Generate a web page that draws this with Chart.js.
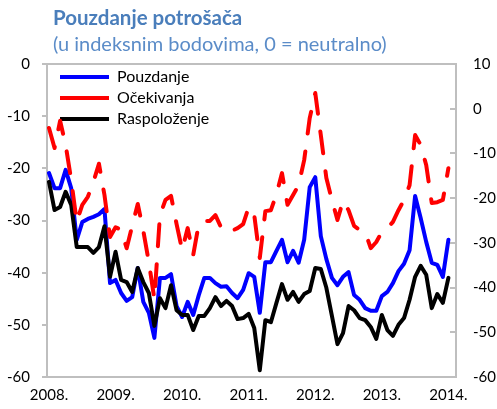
<!DOCTYPE html>
<html>
<head>
<meta charset="utf-8">
<script src="https://cdn.jsdelivr.net/npm/chart.js@4.4.1/dist/chart.umd.min.js"></script>
<style>
html,body{margin:0;padding:0;background:#ffffff;}
#wrap{width:497px;height:409px;position:relative;}
</style>
</head>
<body>
<div id="wrap"><canvas id="c" width="497" height="409"></canvas></div>
<script>
// ---- data (monthly, Jan 2008 - Jan 2014) ----
const yearLabels = ['2008.', '2009.', '2010.', '2011.', '2012.', '2013.', '2014.'];
const seriesNames = ['Pouzdanje', 'Očekivanja', 'Raspoloženje'];

const pouzdanje = [
  -20.9,-23.8,-23.8,-20.3,-23.8,-33.7,-30.3,-29.7,-29.3,-28.8,-27.8,-42.0,
  -41.4,-43.9,-45.4,-44.7,-39.1,-45.6,-47.7,-52.5,-41.0,-41.0,-40.3,-46.4,
  -48.5,-45.6,-48.1,-44.3,-41.0,-41.0,-42.0,-42.7,-42.6,-43.9,-44.9,-43.3,
  -40.1,-40.8,-47.7,-38.0,-38.0,-35.8,-33.7,-38.0,-35.8,-38.1,-33.7,-23.6,
  -21.7,-33.0,-37.4,-41.0,-42.4,-40.8,-39.9,-44.3,-45.2,-46.8,-47.3,-47.3,
  -44.5,-43.7,-42.0,-39.7,-38.3,-35.7,-25.3,-29.5,-34.1,-38.1,-38.5,-40.8,
  -33.7
];
const ocekivanja = [
  -4.3,-8.8,-2.7,-8.1,-15.9,-25.3,-21.5,-19.7,-16.4,-12.3,-19.3,-28.7,
  -26.5,-27.1,-31.2,-26.2,-21.3,-27.3,-34.3,-42.6,-23.8,-20.4,-19.5,-25.8,
  -31.6,-26.7,-32.7,-25.8,-25.1,-25.1,-23.8,-26.5,-26.2,-27.3,-26.7,-25.8,
  -22.0,-23.8,-33.4,-22.9,-22.7,-19.1,-14.4,-21.5,-19.3,-17.1,-11.5,-2.1,
  3.5,-5.9,-15.5,-20.4,-24.9,-20.6,-22.7,-26.2,-27.1,-27.6,-31.2,-29.8,
  -27.6,-26.7,-25.3,-22.7,-20.4,-17.1,-5.9,-8.1,-12.6,-21.1,-20.9,-20.4,
  -13.3
];
const raspolozenje = [
  -22.6,-28.0,-27.4,-24.5,-27.0,-35.1,-35.1,-35.1,-36.2,-35.1,-31.1,-40.8,
  -36.0,-41.4,-41.8,-43.7,-39.1,-41.8,-43.9,-50.2,-44.9,-46.8,-42.4,-47.2,
  -48.1,-48.1,-51.0,-48.3,-48.3,-46.8,-44.7,-46.4,-45.4,-46.4,-48.9,-48.7,
  -47.9,-50.6,-58.7,-49.1,-49.5,-45.8,-42.2,-45.2,-43.7,-45.6,-44.1,-43.5,
  -39.1,-39.3,-42.9,-48.3,-53.7,-51.6,-46.4,-47.2,-48.7,-49.1,-50.4,-52.7,
  -48.1,-51.0,-52.1,-50.0,-48.7,-45.2,-40.8,-38.7,-40.4,-46.8,-44.1,-45.8,
  -41.0
];

const toPoints = arr => arr.map((v, i) => ({ x: i, y: v }));

const FONT = 'Lato';
const AXIS_GRAY = '#BFBFBF';

const layoutPlugin = {
  id: 'layoutTweaks',
  afterLayout(chart) {
    chart.boxes.forEach(b => {
      if (b.options && typeof b.options.text === 'string' && b.options.position === 'top') {
        b.left += 53; b.right += 53;
      }
    });
    const lg = chart.legend, a = chart.chartArea;
    if (lg) {
      const w = lg.width;
      lg.left = a.left + 8; lg.right = lg.left + w;
      lg.top = a.top; lg.bottom = a.bottom; lg.height = a.bottom - a.top;
    }
  },
  beforeDatasetsDraw(chart) {
    const { ctx, chartArea: a } = chart;
    ctx.save();
    ctx.strokeStyle = AXIS_GRAY;
    ctx.lineWidth = 2;
    ctx.strokeRect(a.left, a.top, a.right - a.left, a.bottom - a.top);
    // inward tick marks on the right-hand axis
    const s = chart.scales.y1;
    ctx.beginPath();
    s.ticks.forEach(t => {
      const y = Math.round(s.getPixelForValue(t.value));
      ctx.moveTo(a.right - 6, y);
      ctx.lineTo(a.right, y);
    });
    ctx.stroke();
    ctx.restore();
  }
};

new Chart(document.getElementById('c'), {
  type: 'line',
  data: {
    datasets: [
      { label: seriesNames[0], data: toPoints(pouzdanje), yAxisID: 'y',
        borderColor: '#0000FF', backgroundColor: '#0000FF', borderWidth: 4,
        pointRadius: 0, tension: 0, borderJoinStyle: 'round', borderCapStyle: 'round', order: 2 },
      { label: seriesNames[1], data: toPoints(ocekivanja), yAxisID: 'y1',
        borderColor: '#FF0000', backgroundColor: '#FF0000', borderWidth: 4, borderDash: [22, 18],
        pointRadius: 0, tension: 0, borderJoinStyle: 'round', borderCapStyle: 'round', order: 0 },
      { label: seriesNames[2], data: toPoints(raspolozenje), yAxisID: 'y',
        borderColor: '#000000', backgroundColor: '#000000', borderWidth: 4,
        pointRadius: 0, tension: 0, borderJoinStyle: 'round', borderCapStyle: 'round', order: 1 }
    ]
  },
  options: {
    responsive: false,
    animation: false,
    devicePixelRatio: 1,
    layout: { padding: 0 },
    plugins: {
      title: {
        display: true, text: 'Pouzdanje potrošača', align: 'start', color: '#4A7EBB',
        font: { family: FONT, size: 20.5, weight: 'bold', lineHeight: 1.2 },
        padding: { top: 6, bottom: 0 }
      },
      subtitle: {
        display: true, text: '(u indeksnim bodovima, 0 = neutralno)', align: 'start', color: '#5B8CC8',
        font: { family: FONT, size: 20, lineHeight: 1.2 },
        padding: { top: 2, bottom: 7.4 }
      },
      legend: {
        position: 'chartArea', align: 'start',
        labels: {
          usePointStyle: true, pointStyle: 'line', pointStyleWidth: 49,
          padding: 5, color: '#000000', font: { family: FONT, size: 16 },
          sort: (a, b) => a.datasetIndex - b.datasetIndex
        }
      },
      tooltip: { enabled: false }
    },
    scales: {
      x: {
        type: 'linear', min: -0.36, max: 73.37,
        grid: { display: false, drawTicks: false },
        border: { display: false },
        ticks: {
          stepSize: 12, includeBounds: false, autoSkip: false, maxRotation: 0, padding: 9,
          color: '#000000', font: { family: FONT, size: 15 },
          callback: v => yearLabels[Math.round(v / 12)] ?? ''
        },
        afterFit: s => { s.height = 32; }
      },
      y: {
        position: 'left', min: -60, max: 0,
        grid: { drawOnChartArea: false, drawTicks: true, tickLength: 5, color: AXIS_GRAY, lineWidth: 2 },
        border: { display: false },
        ticks: { stepSize: 10, padding: 12, color: '#000000', font: { family: FONT, size: 15 },
          callback: v => String(v) },
        afterFit: s => { s.width = 47; }
      },
      y1: {
        position: 'right', min: -60, max: 10,
        grid: { drawOnChartArea: false, drawTicks: false },
        border: { display: false },
        ticks: { stepSize: 10, padding: 17, color: '#000000', font: { family: FONT, size: 15 },
          callback: v => String(v) },
        afterFit: s => { s.width = 41; }
      }
    }
  },
  plugins: [layoutPlugin]
});
</script>
</body>
</html>
